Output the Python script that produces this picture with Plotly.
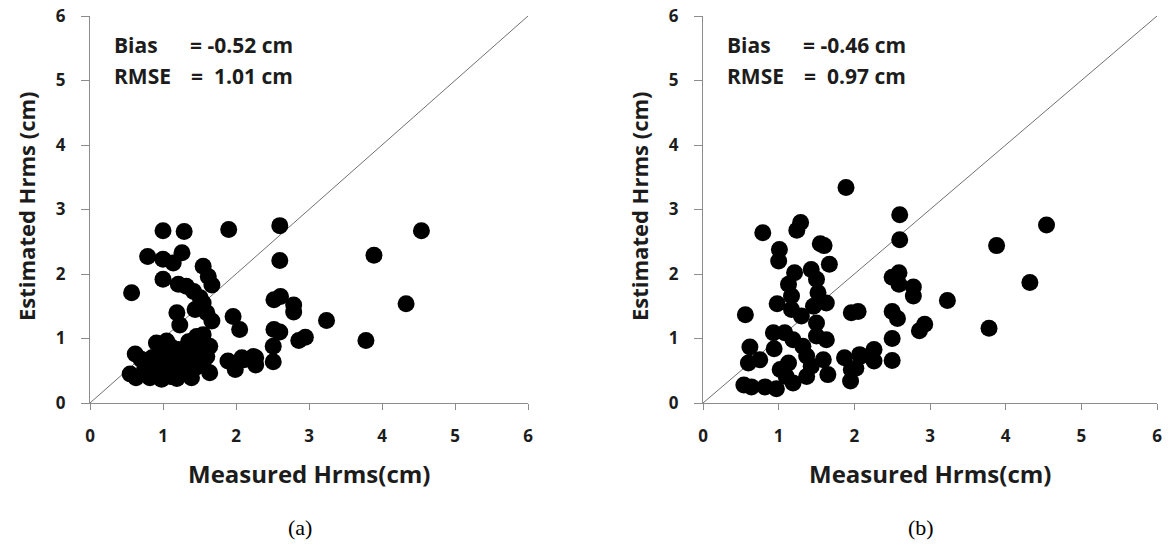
import plotly.graph_objects as go

# ---- data (a) ----
ax_x = [1.00, 1.29, 1.90, 0.79, 1.00, 1.14, 1.26, 1.55, 1.62, 1.67, 1.00, 0.57, 1.21, 1.32,
        1.42, 1.51, 1.44, 1.55, 1.60, 1.67, 1.19, 1.23, 1.96, 2.05, 0.91, 1.05, 0.62,
        0.55, 0.63, 0.75, 0.82, 0.94, 0.98, 1.10, 1.19, 1.39, 1.64, 1.55, 1.64, 1.46, 1.55,
        1.32, 1.21, 1.10, 1.00, 0.91, 1.28, 1.46, 1.14, 1.89, 1.99, 2.08, 2.24,
        2.60, 4.54, 3.89, 2.60, 2.52, 2.61, 2.79, 2.79, 3.24, 4.33, 2.52, 2.60, 2.86, 2.95,
        3.78, 2.51, 2.51, 2.27, 2.27, 2.11, 1.05, 1.35, 0.70,
        1.05, 1.25, 1.45, 1.50, 0.85, 1.60, 1.38]
ay_y = [2.67, 2.66, 2.69, 2.27, 2.23, 2.17, 2.33, 2.12, 1.96, 1.83, 1.92, 1.71, 1.84, 1.81,
        1.73, 1.63, 1.45, 1.55, 1.40, 1.27, 1.40, 1.21, 1.34, 1.14, 0.93, 0.96, 0.76,
        0.45, 0.39, 0.54, 0.39, 0.52, 0.37, 0.41, 0.38, 0.39, 0.47, 0.62, 0.88, 1.03, 1.06,
        0.72, 0.83, 0.88, 0.72, 0.62, 0.57, 0.72, 0.62, 0.65, 0.52, 0.70, 0.72,
        2.75, 2.67, 2.29, 2.21, 1.60, 1.65, 1.52, 1.41, 1.28, 1.54, 1.14, 1.10, 0.97, 1.02,
        0.97, 0.88, 0.64, 0.70, 0.59, 0.67, 0.80, 0.95, 0.68,
        0.55, 0.45, 0.55, 0.85, 0.70, 0.72, 0.95]

# ---- data (b) ----
bx_x = [1.89, 0.79, 1.24, 1.29, 1.01, 1.00, 1.55, 1.60, 1.67, 1.21, 1.43, 1.13, 1.50, 1.17,
        1.52, 0.98, 1.17, 1.30, 1.46, 1.63, 0.56, 1.96, 2.05, 1.50, 0.93, 1.08, 1.19, 1.32,
        1.50, 1.63, 0.94, 0.62, 0.60, 0.75, 0.54, 0.64, 0.82, 0.97, 1.02, 1.13, 1.10, 1.37,
        1.43, 1.37, 1.19, 1.59, 1.65, 1.87, 1.96, 1.95, 2.09,
        2.60, 2.60, 4.54, 3.88, 4.32, 3.78, 2.50, 2.59, 2.59, 2.78, 2.78, 3.23, 2.50, 2.57,
        2.86, 2.93, 2.50, 2.50, 2.26, 2.26, 2.07, 2.02]
by_y = [3.34, 2.64, 2.68, 2.80, 2.38, 2.20, 2.47, 2.44, 2.15, 2.02, 2.07, 1.84, 1.92, 1.66,
        1.71, 1.54, 1.45, 1.35, 1.50, 1.55, 1.37, 1.40, 1.42, 1.24, 1.09, 1.09, 0.98, 0.88,
        1.04, 0.98, 0.84, 0.87, 0.62, 0.67, 0.28, 0.25, 0.25, 0.22, 0.52, 0.62, 0.41, 0.73,
        0.57, 0.41, 0.31, 0.67, 0.44, 0.70, 0.52, 0.34, 0.73,
        2.92, 2.53, 2.76, 2.44, 1.87, 1.16, 1.95, 2.02, 1.84, 1.80, 1.66, 1.59, 1.42, 1.31,
        1.12, 1.22, 1.00, 0.66, 0.83, 0.65, 0.75, 0.54]

ticks = [0, 1, 2, 3, 4, 5, 6]
tick_labels = ["<b>%d</b>" % t for t in ticks]
bias_a, rmse_a = "= -0.52 cm", "=\u00a0 1.01 cm"
bias_b, rmse_b = "= -0.46 cm", "=\u00a0 0.97 cm"
captions = ["(a)", "(b)"]
x_title = "Measured Hrms(cm)"
y_title = "Estimated Hrms (cm)"

FONT = "Open Sans"
TXT = "#1c1c1c"
AXC = "#8c8c8c"
W, H = 1173, 555

fig = go.Figure()
marker = dict(color="black", size=17, line=dict(width=0))
for xa, ya, xs, ys in [("x", "y", ax_x, ay_y), ("x2", "y2", bx_x, by_y)]:
    fig.add_trace(go.Scatter(x=[0, 6], y=[0, 6], mode="lines", line=dict(color="#707070", width=1),
                             xaxis=xa, yaxis=ya, showlegend=False, hoverinfo="skip"))
    fig.add_trace(go.Scatter(x=xs, y=ys, mode="markers", marker=marker, xaxis=xa, yaxis=ya, showlegend=False))


def px(x):
    return x / W


def py(y):
    return (H - y) / H


Y0, Y6 = 403, 16
ydom = [py(Y0), py(Y6)]
panels = [(90, 528), (703, 1157)]


def common(ticklen):
    return dict(range=[0, 6], tickmode="array", tickvals=ticks, ticktext=tick_labels,
                showgrid=False, zeroline=False, showline=True, linecolor=AXC, linewidth=1,
                ticks="outside", ticklen=ticklen, tickcolor=AXC, ticklabelstandoff=12,
                ticklabeloverflow="allow", automargin=False,
                tickfont=dict(family=FONT, size=17, color=TXT, weight="bold"))


fig.update_layout(
    width=W, height=H, margin=dict(l=0, r=0, t=0, b=0),
    paper_bgcolor="white", plot_bgcolor="white",
    xaxis=dict(domain=[px(panels[0][0]), px(panels[0][1])], anchor="y", **common(6)),
    yaxis=dict(domain=ydom, anchor="x", **common(8)),
    xaxis2=dict(domain=[px(panels[1][0]), px(panels[1][1])], anchor="y2", **common(6)),
    yaxis2=dict(domain=ydom, anchor="x2", **common(8)),
)

for (x0, x1), (b, r), cap in zip(panels, [(bias_a, rmse_a), (bias_b, rmse_b)], captions):
    sfont = dict(family=FONT, size=21, color=TXT, weight="bold")
    fig.add_annotation(x=px(x0 + 22), y=py(45), xref="paper", yref="paper", text="Bias", showarrow=False,
                       xanchor="left", yanchor="middle", font=sfont)
    fig.add_annotation(x=px(x0 + 205), y=py(45), xref="paper", yref="paper", text=b, showarrow=False,
                       xanchor="right", yanchor="middle", font=sfont)
    fig.add_annotation(x=px(x0 + 22), y=py(76), xref="paper", yref="paper", text="RMSE", showarrow=False,
                       xanchor="left", yanchor="middle", font=sfont)
    fig.add_annotation(x=px(x0 + 205), y=py(76), xref="paper", yref="paper", text=r, showarrow=False,
                       xanchor="right", yanchor="middle", font=sfont)
    # axis titles
    fig.add_annotation(x=px((x0 + x1) / 2), y=py(474), xref="paper", yref="paper", text=x_title, showarrow=False,
                       xanchor="center", yanchor="middle", font=dict(family=FONT, size=24, color=TXT, weight="bold"))
    fig.add_annotation(x=px(x0 - 64), y=py(206), xref="paper", yref="paper", text=y_title, showarrow=False,
                       textangle=-90, xanchor="center", yanchor="middle",
                       font=dict(family=FONT, size=22, color=TXT, weight="bold"))
    # caption
    fig.add_annotation(x=px((x0 + x1) / 2 - 9), y=py(527), xref="paper", yref="paper", text=cap, showarrow=False,
                       xanchor="center", yanchor="middle", font=dict(family="Liberation Serif", size=22, color="black"))

# remove the default page margin so the fixed-size figure fills the window exactly
fig.write_html("out.html", config={"displayModeBar": False},
               post_script="document.body.style.margin='0';document.body.style.overflow='hidden';")
